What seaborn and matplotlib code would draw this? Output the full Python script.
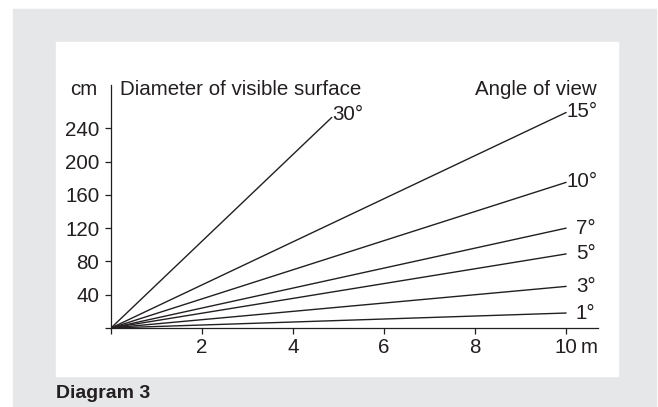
import matplotlib
matplotlib.use('Agg')
import matplotlib.pyplot as plt
from matplotlib.patches import Rectangle
import seaborn as sns
import pandas as pd

# Angle of view lines: each runs from the origin to an end point (distance m, diameter cm)
angles = ['30°', '15°', '10°', '7°', '5°', '3°', '1°']
end_dist = [4.85, 10, 10, 10, 10, 10, 10]
end_diam = [253, 259, 175, 120, 89, 50, 18]

xticks = [0, 2, 4, 6, 8, 10]
xlabels = ['', '2', '4', '6', '8', '10']
yticks = [0, 40, 80, 120, 160, 200, 240]
ylabels = ['', '40', '80', '120', '160', '200', '240']

rows = []
for a, d, c in zip(angles, end_dist, end_diam):
    rows.append({'angle': a, 'dist': 0, 'diam': 0})
    rows.append({'angle': a, 'dist': d, 'diam': c})
df = pd.DataFrame(rows)

sns.set_style('ticks')
plt.rcParams['font.family'] = ['Liberation Sans', 'DejaVu Sans']
ink = '#231f20'
fs = 14.8

W, H = 658, 407
fig = plt.figure(figsize=(W / 100, H / 100), dpi=100, facecolor='white')

# grey box and white panel
fig.patches.append(Rectangle((13 / W, 0), (656 - 13) / W, (407 - 9) / H,
                             transform=fig.transFigure, color='#e6e7e8', zorder=-2))
fig.patches.append(Rectangle((56 / W, (H - 376) / H), (618 - 56) / W, (376 - 42) / H,
                             transform=fig.transFigure, color='white', zorder=-1))

ax = fig.add_axes([111 / W, (H - 328) / H, (598 - 111) / W, (328 - 85) / H])
ax.set_facecolor('none')

sns.lineplot(data=df, x='dist', y='diam', units='angle', estimator=None,
             color=ink, lw=1.0, legend=False, ax=ax)

ax.set_xlim(0, 10.7)
ax.set_ylim(0, 292)
ax.set_xlabel('')
ax.set_ylabel('')
ax.set_xticks(xticks)
ax.set_xticklabels(xlabels)
ax.set_yticks(yticks)
ax.set_yticklabels(ylabels)
ax.tick_params(axis='both', length=4.3, width=0.9, color=ink, labelcolor=ink, labelsize=fs)
ax.tick_params(axis='x', pad=2.6)
ax.tick_params(axis='y', pad=4.0)
for s in ['top', 'right']:
    ax.spines[s].set_visible(False)
for s in ['left', 'bottom']:
    ax.spines[s].set_color(ink)
    ax.spines[s].set_linewidth(0.9)

# unit after the last x tick label
ax.annotate('m', xy=(10, 0), xycoords=('data', 'axes fraction'),
            xytext=(10.5, -(4.3 + 2.6)), textcoords='offset points',
            ha='left', va='top', fontsize=fs, color=ink)

# headers
ax.text(-0.29, 280, 'cm', ha='right', va='baseline', fontsize=fs, color=ink)
ax.text(0.2, 280, 'Diameter of visible surface', ha='left', va='baseline', fontsize=fs, color=ink)
ax.text(10.66, 280, 'Angle of view', ha='right', va='baseline', fontsize=fs, color=ink)

# angle labels at line ends
for a, d, c in zip(angles, end_dist, end_diam):
    if a == '30°':
        ax.annotate(a, xy=(d, c), xytext=(0, -1.5), textcoords='offset points',
                    ha='left', va='baseline', fontsize=fs, color=ink)
    elif a in ('15°', '10°'):
        ax.annotate(a, xy=(d, c), xytext=(0, 0.5), textcoords='offset points',
                    ha='left', va='center', fontsize=fs, color=ink)
    else:
        ax.annotate(a, xy=(d, c), xytext=(7, 0), textcoords='offset points',
                    ha='left', va='center', fontsize=fs, color=ink)

fig.text(56 / W, (H - 393) / H, 'Diagram 3', ha='left', va='center',
         fontsize=14, fontweight='bold', color=ink)

fig.savefig('out.png', dpi=100, facecolor='white')
